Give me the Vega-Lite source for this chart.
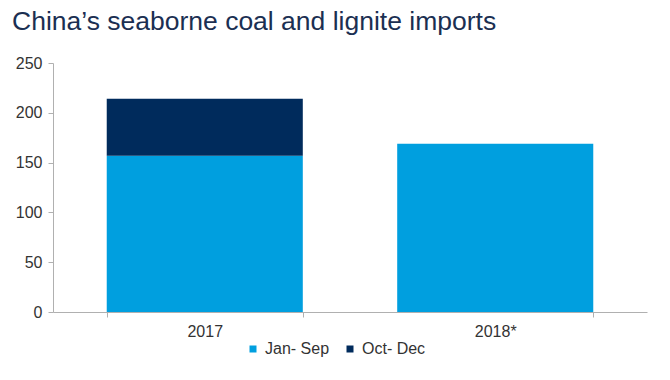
{
  "$schema": "https://vega.github.io/schema/vega-lite/v6.json",
  "width": 594,
  "height": 249,
  "autosize": {"type": "none"},
  "padding": {"left": 53, "top": 63, "right": 23, "bottom": 68},
  "background": "white",
  "title": {
    "text": "China’s seaborne coal and lignite imports",
    "anchor": "start",
    "frame": "group",
    "dx": -41,
    "offset": 20,
    "fontSize": 26.5,
    "font": "Liberation Sans",
    "fontWeight": "normal",
    "color": "#1b2f52"
  },
  "data": {
    "values": [
      {"year": "2017", "period": "Jan- Sep", "value": 157},
      {"year": "2017", "period": "Oct- Dec", "value": 57},
      {"year": "2018*", "period": "Jan- Sep", "value": 169}
    ]
  },
  "mark": {"type": "bar"},
  "encoding": {
    "x": {
      "field": "year",
      "type": "nominal",
      "scale": {"paddingInner": 0.325, "paddingOuter": 0.185},
      "axis": {
        "title": null,
        "labelAngle": 0,
        "tickBand": "extent",
        "labelFontSize": 16,
        "labelFont": "Liberation Sans",
        "labelColor": "#333333",
        "labelPadding": 6,
        "domainColor": "#b0b0b0",
        "tickColor": "#b0b0b0",
        "tickSize": 5
      }
    },
    "y": {
      "field": "value",
      "type": "quantitative",
      "scale": {"domain": [0, 250]},
      "axis": {
        "title": null,
        "values": [0, 50, 100, 150, 200, 250],
        "grid": false,
        "labelFontSize": 16,
        "labelFont": "Liberation Sans",
        "labelColor": "#333333",
        "labelPadding": 6,
        "domainColor": "#b0b0b0",
        "tickColor": "#b0b0b0",
        "tickSize": 5
      }
    },
    "color": {
      "field": "period",
      "type": "nominal",
      "scale": {"domain": ["Jan- Sep", "Oct- Dec"], "range": ["#009fdf", "#002b5c"]},
      "legend": {
        "title": null,
        "orient": "none",
        "direction": "horizontal",
        "legendX": 192,
        "legendY": 278,
        "symbolType": "square",
        "symbolSize": 49,
        "symbolStrokeWidth": 0,
        "labelFontSize": 16,
        "labelFont": "Liberation Sans",
        "labelColor": "#333333",
        "labelOffset": 4,
        "columnPadding": 12
      }
    },
    "order": {"field": "period", "sort": "ascending"}
  },
  "config": {"view": {"stroke": null}}
}
